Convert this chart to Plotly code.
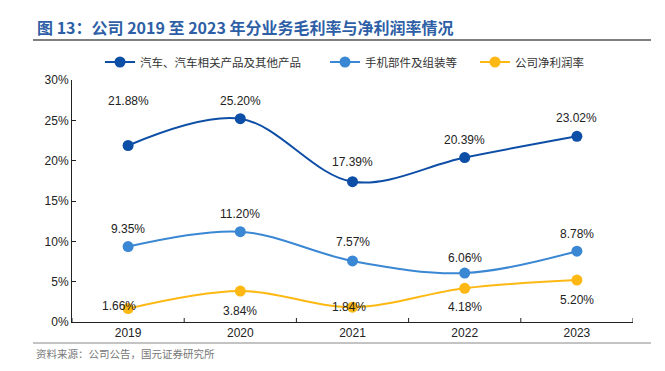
import plotly.graph_objects as go

years = ["2019", "2020", "2021", "2022", "2023"]
auto_parts = [21.88, 25.20, 17.39, 20.39, 23.02]
phone_parts = [9.35, 11.20, 7.57, 6.06, 8.78]
net_margin = [1.66, 3.84, 1.84, 4.18, 5.20]
names = ["汽车、汽车相关产品及其他产品", "手机部件及组装等", "公司净利润率"]
y_ticks = [0, 5, 10, 15, 20, 25, 30]

colors = ["#0D4EA6", "#3A87D3", "#FDB813"]
series = [auto_parts, phone_parts, net_margin]

# label offsets (px) per point for each series
label_dy = [
    [45, 18, 20, 18, 18],
    [18, 18, 19, 15, 17],
    [3, -20, 0, -19, -20],
]
label_dx = [
    [0, 0, 0, 0, 0],
    [0, 0, 0, 0, 0],
    [-9, 0, -4, 0, 0],
]

W, H = 665, 371
L, R, T, B = 72, 32, 80, 49
pw, ph = W - L - R, H - T - B

def px_x(px):
    return (px - L) / pw

def px_y(py):
    return 1 - (py - T) / ph

legend_keys = ["legend", "legend2", "legend3"]
legend_x = [105, 330, 480]

fig = go.Figure()
for name, vals, c, lk in zip(names, series, colors, legend_keys):
    fig.add_trace(go.Scatter(
        x=years, y=vals, name=name, mode="lines+markers",
        line=dict(color=c, width=2, shape="spline", smoothing=1.0),
        marker=dict(color=c, size=11),
        hoverinfo="skip", legend=lk,
    ))

annotations = []
for si, vals in enumerate(series):
    for i, v in enumerate(vals):
        annotations.append(dict(
            x=i, y=v, xref="x", yref="y", text=f"{v:.2f}%", showarrow=False,
            yshift=label_dy[si][i], xshift=label_dx[si][i],
            font=dict(family="Liberation Sans, Arial", size=12, color="#222222"),
        ))

annotations.append(dict(
    x=px_x(35), y=px_y(27), xref="paper", yref="paper",
    text="<b>图 13：公司 2019 至 2023 年分业务毛利率与净利润率情况</b>",
    showarrow=False, xanchor="left", yanchor="middle",
    font=dict(family="Noto Sans CJK SC", size=16, color="#2E5FA6"),
))
annotations.append(dict(
    x=px_x(34), y=px_y(353), xref="paper", yref="paper",
    text="资料来源：公司公告，国元证券研究所", showarrow=False,
    xanchor="left", yanchor="middle",
    font=dict(family="Noto Sans CJK SC", size=10.5, color="#777777"),
))

def hline(py, x0, x1, color, width):
    return dict(type="line", xref="paper", yref="paper",
                x0=px_x(x0), x1=px_x(x1), y0=px_y(py), y1=px_y(py),
                line=dict(color=color, width=width))

shapes = [hline(40, 33, 651, "#555555", 1.5), hline(343, 33, 651, "#888888", 1)]

legend_common = dict(orientation="h", yanchor="middle", xanchor="left",
                     font=dict(family="Noto Sans CJK SC", size=11.5, color="#333333"),
                     itemwidth=30, bgcolor="rgba(0,0,0,0)")
legends = {}
for lk, lx in zip(legend_keys, legend_x):
    legends[lk] = dict(legend_common, x=px_x(lx) - 5 / pw, y=px_y(62))

fig.update_layout(
    width=W, height=H, margin=dict(l=L, r=R, t=T, b=B, autoexpand=False),
    plot_bgcolor="white", paper_bgcolor="white",
    font=dict(family="Liberation Sans, Arial", size=12, color="#222222"),
    showlegend=True,
    annotations=annotations, shapes=shapes,
    xaxis=dict(type="category", range=[-0.5, 4.5], showgrid=False, showline=True,
               linecolor="#222222", linewidth=1, ticks="", tickfont=dict(size=12),
               zeroline=False),
    yaxis=dict(range=[0, 30], tickvals=y_ticks, ticktext=[f"{t}%" for t in y_ticks],
               showgrid=False, showline=True, linecolor="#222222", linewidth=1,
               ticks="inside", ticklen=4, tickcolor="#222222", zeroline=False,
               tickfont=dict(size=12)),
    **legends,
)

# category separator ticks on x-axis (inside)
for k in range(6):
    fig.add_shape(type="line", xref="x", yref="paper", x0=k - 0.5, x1=k - 0.5,
                  y0=0, y1=4 / ph, line=dict(color="#222222", width=1))

fig.write_html("out.html", config={"displayModeBar": False},
               post_script="document.body.style.margin='0';document.body.style.overflow='hidden';")
